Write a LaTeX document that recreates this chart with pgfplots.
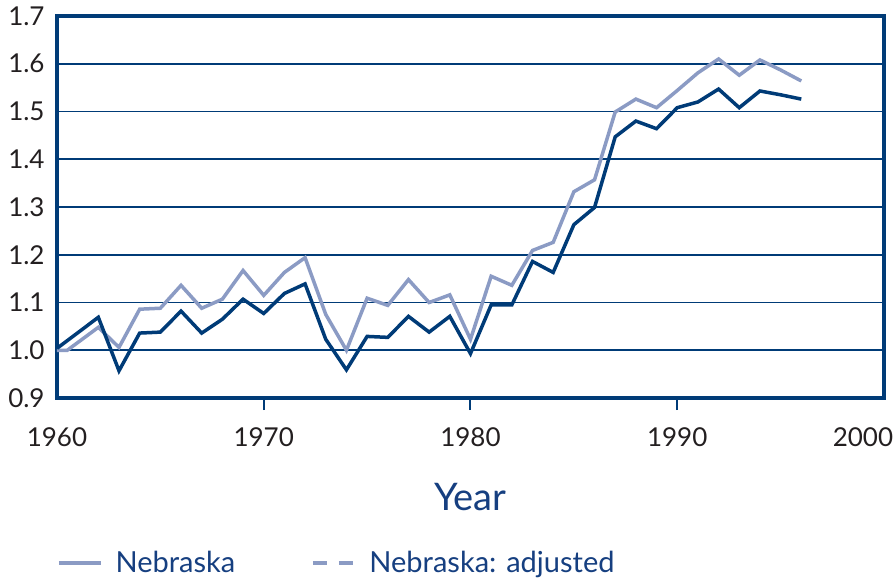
\documentclass[border=0pt]{standalone}
\usepackage{fontspec}
\setmainfont{Lato}
\usepackage{pgfplots}
\pgfplotsset{compat=1.18}
\definecolor{navy}{RGB}{0,59,119}
\definecolor{lightline}{RGB}{139,155,196}
\definecolor{ticktext}{RGB}{35,31,32}
\definecolor{labelnavy}{RGB}{22,63,128}
\begin{document}
\begin{tikzpicture}
\begin{axis}[
  name=ax,
  scale only axis,
  width=413.5pt, height=191pt,
  xmin=1960, xmax=2000, ymin=0.9, ymax=1.7,
  xtick={1960,1970,1980,1990,2000},
  xticklabels={1960,1970,1980,1990,\hspace*{-21pt}2000},
  ytick={0.9,1.0,1.1,1.2,1.3,1.4,1.5,1.6,1.7},
  major tick length=0pt,
  extra x ticks={1970,1980,1990},
  extra x tick labels={},
  extra x tick style={major tick length=6pt, tick align=outside, xtick pos=bottom, grid=none,
     tick style={navy, line width=1pt}},
  ymajorgrids,
  grid style={navy, line width=0.9pt},
  axis line style={navy, line width=2.2pt},
  /pgf/number format/assume math mode=true,
  x tick label style={font=\fontsize{13}{15}\selectfont, text=ticktext,
     anchor=north, inner sep=0pt, yshift=-14.5pt},
  y tick label style={/pgf/number format/fixed, /pgf/number format/fixed zerofill,
     /pgf/number format/precision=1, font=\fontsize{13}{15}\selectfont, text=ticktext,
     anchor=east, inner sep=0pt, xshift=-6pt},
  xlabel={Year},
  xlabel style={at={(axis description cs:0.5,-0.259)}, anchor=center,
     font=\fontsize{19}{21}\selectfont, text=labelnavy},
  legend style={at={(axis description cs:0,-0.432)}, anchor=west, draw=none, fill=none,
     inner sep=0pt, nodes={inner sep=0pt},
     font=\fontsize{14.5}{17}\selectfont, text=labelnavy, legend columns=2,
     /tikz/every odd column/.append style={column sep=6.5pt},
     /tikz/every even column/.append style={column sep=38pt}},
  legend cell align=left,
  legend image code/.code={\draw[#1, line width=1.6pt] (0cm,0cm) -- (21pt,0cm);},
]
\addplot[lightline, line width=1.75pt] coordinates {
(1960,1.000) (1960.5,1.000) (1962,1.048) (1963,1.006) (1964,1.086) (1965,1.088)
(1966,1.136) (1967,1.088) (1968,1.107) (1969,1.167) (1970,1.115) (1971,1.163)
(1972,1.194) (1973,1.075) (1974,1.000) (1975,1.109) (1976,1.094) (1977,1.148)
(1978,1.100) (1979,1.116) (1980,1.023) (1981,1.155) (1982,1.136) (1983,1.209)
(1984,1.226) (1985,1.332) (1986,1.357) (1987,1.499) (1988,1.526) (1989,1.508)
(1990,1.544) (1991,1.581) (1992,1.610) (1993,1.576) (1994,1.608) (1995,1.587)
(1996,1.564)};
\addlegendentry{Nebraska}
\addplot[navy, line width=1.75pt, forget plot] coordinates {
(1960,1.004) (1962,1.069) (1963,0.957) (1964,1.036) (1965,1.038) (1966,1.082)
(1967,1.036) (1968,1.065) (1969,1.107) (1970,1.077) (1971,1.119) (1972,1.139)
(1973,1.023) (1974,0.959) (1975,1.029) (1976,1.027) (1977,1.071) (1978,1.038)
(1979,1.071) (1980,0.993) (1981,1.095) (1982,1.095) (1983,1.186) (1984,1.163)
(1985,1.263) (1986,1.299) (1987,1.447) (1988,1.480) (1989,1.464) (1990,1.508)
(1991,1.520) (1992,1.547) (1993,1.508) (1994,1.543) (1995,1.535) (1996,1.526)};
\addlegendimage{lightline, dash pattern=on 7pt off 6pt}
\addlegendentry{Nebraska: adjusted}
\coordinate (BL) at (rel axis cs:-0.0689,-0.4869);
\coordinate (TR) at (rel axis cs:1.0121,1.0419);
\end{axis}
\pgfresetboundingbox
\path (BL) rectangle (TR);
\end{tikzpicture}
\end{document}
